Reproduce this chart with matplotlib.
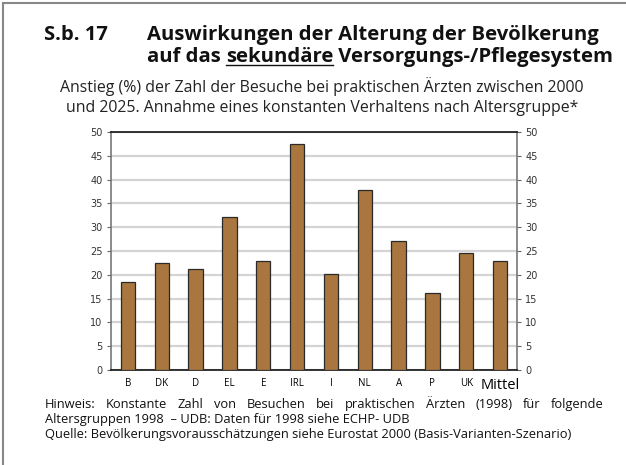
import numpy as np
import matplotlib.pyplot as plt
from matplotlib.lines import Line2D

# Data
laender = ["B", "DK", "D", "EL", "E", "IRL", "I", "NL", "A", "P", "UK", "Mittel"]
anstieg = [18.5, 22.4, 21.3, 32.1, 23.0, 47.5, 20.1, 37.8, 27.1, 16.2, 24.6, 22.8]
yticks = [0, 5, 10, 15, 20, 25, 30, 35, 40, 45, 50]

plt.rcParams['font.family'] = ['Open Sans', 'DejaVu Sans']

W, H = 626, 465
fig = plt.figure(figsize=(W / 100, H / 100), dpi=100)

# frame around figure (top and left only)
fig.add_artist(Line2D([3 / W, 3 / W], [0, 1 - 3 / H], transform=fig.transFigure, color='#888888', lw=1.5))
fig.add_artist(Line2D([3 / W, 1], [1 - 3 / H, 1 - 3 / H], transform=fig.transFigure, color='#888888', lw=1.5))

ax = fig.add_axes([111 / W, 1 - 370 / H, (517 - 111) / W, (370 - 132) / H])
x = np.arange(len(laender))
ax.bar(x, anstieg, width=0.42, color='#A8763E', edgecolor='#2a2a2a', linewidth=0.9, zorder=3)
ax.set_xlim(-0.5, len(laender) - 0.5)
ax.set_ylim(0, 50)
ax.set_yticks(yticks)
ax.yaxis.grid(True, color='#d4d4d4', lw=1.6, zorder=0)
ax.tick_params(axis='y', which='both', left=True, right=True, labelleft=True, labelright=True,
               labelsize=7, length=3, color='#666666', pad=3)
ax.set_yticklabels([str(v) for v in yticks], family='Liberation Sans Narrow')
ax.set_xticks(x)
ax.set_xticklabels(laender, fontsize=7)
ax.tick_params(axis='x', length=0, pad=6)
for lab in ax.get_yticklabels():
    lab.set_color('#333333')
lbls = ax.get_xticklabels()
lbls[-1].set_fontsize(10.5)
ax.spines['top'].set_color('#111111')
ax.spines['bottom'].set_color('#111111')
ax.spines['left'].set_color('#777777')
ax.spines['right'].set_color('#777777')
for s in ax.spines.values():
    s.set_linewidth(1.2)

# title
tfs = 14.6
fig.text(44 / W, 1 - 40 / H, "S.b. 17", fontsize=tfs, fontweight='bold', color='#111111')
fig.text(147 / W, 1 - 40 / H, "Auswirkungen der Alterung der Bevölkerung", fontsize=tfs, fontweight='bold', color='#111111')
t1 = fig.text(147 / W, 1 - 62 / H, "auf das ", fontsize=tfs, fontweight='bold', color='#111111')
fig.canvas.draw()
r = fig.canvas.get_renderer()
bb1 = t1.get_window_extent(r)
t2 = fig.text(bb1.x1 / W, 1 - 62 / H, "sekundäre", fontsize=tfs, fontweight='bold', color='#111111')
bb2 = t2.get_window_extent(r)
fig.text(bb2.x1 / W, 1 - 62 / H, " Versorgungs-/Pflegesystem", fontsize=tfs, fontweight='bold', color='#111111')
fig.add_artist(Line2D([bb2.x0 / W, bb2.x1 / W], [1 - 65 / H, 1 - 65 / H], transform=fig.transFigure,
                      color='#111111', lw=1.0))

# subtitle
fig.text(322 / W, 1 - 92 / H, "Anstieg (%) der Zahl der Besuche bei praktischen Ärzten zwischen 2000",
         fontsize=11.4, ha='center', color='#222222')
fig.text(322 / W, 1 - 112 / H, "und 2025. Annahme eines konstanten Verhaltens nach Altersgruppe*",
         fontsize=11.4, ha='center', color='#222222')

# notes, first line justified between x=45 and x=604
nfs = 9.3
words = "Hinweis: Konstante Zahl von Besuchen bei praktischen Ärzten (1998) für folgende".split()
wt = [fig.text(0, 1 - 408 / H, w, fontsize=nfs, color='#111111') for w in words]
widths = [t.get_window_extent(r).width for t in wt]
gap = (604 - 45 - sum(widths)) / (len(words) - 1)
xpos = 45
for t, wd in zip(wt, widths):
    t.set_x(xpos / W)
    xpos += wd + gap
fig.text(45 / W, 1 - 423 / H, "Altersgruppen 1998  – UDB: Daten für 1998 siehe ECHP- UDB", fontsize=nfs, color='#111111')
fig.text(45 / W, 1 - 438 / H, "Quelle: Bevölkerungsvorausschätzungen siehe Eurostat 2000 (Basis-Varianten-Szenario)",
         fontsize=nfs, color='#111111')

fig.savefig("out.png", dpi=100)
